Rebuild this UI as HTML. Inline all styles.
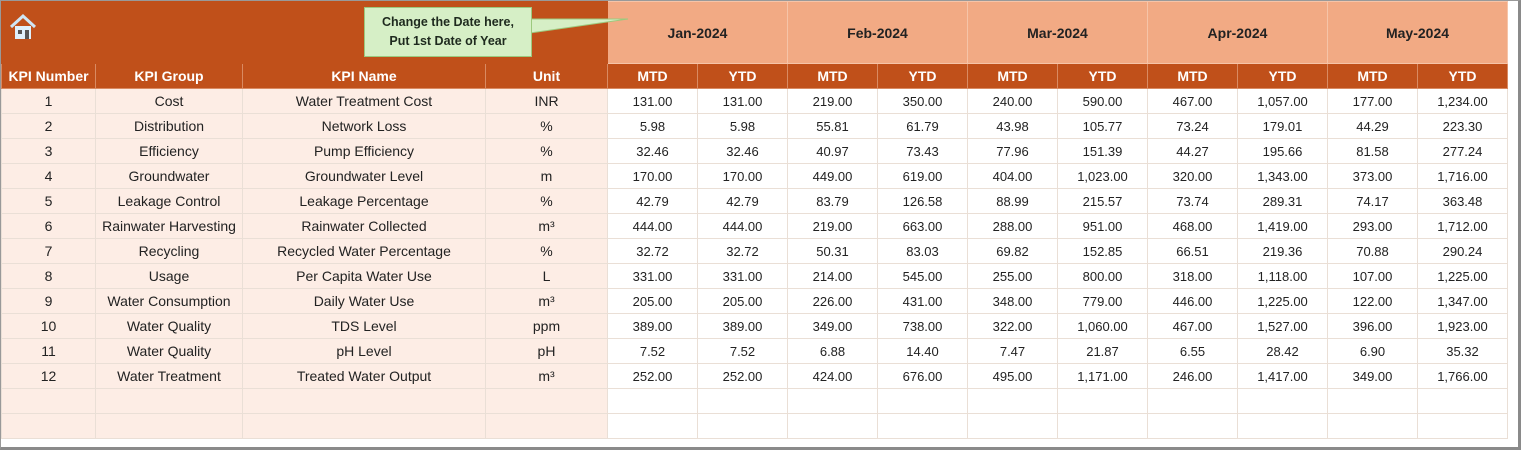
<!DOCTYPE html>
<html><head><meta charset="utf-8"><style>
body{margin:0;width:1524px;height:453px;background:#fff;overflow:hidden;position:relative;font-family:"Liberation Sans",Arial,sans-serif;}
.frame{position:absolute;left:0;top:0;width:1521px;height:450px;border:1px solid #999;border-right:3px solid #8a8a8a;border-bottom:3px solid #8a8a8a;box-sizing:border-box;}
table{position:absolute;left:1px;top:1px;border-collapse:collapse;table-layout:fixed;}
td{padding:0;text-align:center;font-size:13px;color:#222;border:1px solid #eadfd6;height:24px;overflow:hidden;white-space:nowrap;}
.top td{height:61px;}
.hd td{background:#C0501A;color:#fff;font-weight:bold;font-size:14px;border-color:#d98a62;}
.mon{background:#F2AA84;color:#222;font-weight:bold;font-size:14px;border-color:#f6c4a8 !important;}
.l{background:#FDEDE5;font-size:14px;}
.callout{position:absolute;left:364px;top:7px;width:168px;height:50px;background:#D6EFC6;border:1px solid #9CC97E;box-sizing:border-box;font-size:12.5px;font-weight:bold;color:#1e2a1e;text-align:center;line-height:19px;padding-top:5px;}
</style></head><body>
<table>
<colgroup><col style="width:94px"><col style="width:147px"><col style="width:243px"><col style="width:122px">
<col style="width:90px"><col style="width:90px"><col style="width:90px"><col style="width:90px"><col style="width:90px"><col style="width:90px"><col style="width:90px"><col style="width:90px"><col style="width:90px"><col style="width:90px"></colgroup>
<tr class="top"><td colspan="4" style="background:#C0501A;border-color:#C0501A"></td><td colspan="2" class="mon">Jan-2024</td><td colspan="2" class="mon">Feb-2024</td><td colspan="2" class="mon">Mar-2024</td><td colspan="2" class="mon">Apr-2024</td><td colspan="2" class="mon">May-2024</td></tr>
<tr class="hd"><td>KPI Number</td><td>KPI Group</td><td>KPI Name</td><td>Unit</td><td>MTD</td><td>YTD</td><td>MTD</td><td>YTD</td><td>MTD</td><td>YTD</td><td>MTD</td><td>YTD</td><td>MTD</td><td>YTD</td></tr>
<tr><td class="l">1</td><td class="l">Cost</td><td class="l">Water Treatment Cost</td><td class="l">INR</td><td>131.00</td><td>131.00</td><td>219.00</td><td>350.00</td><td>240.00</td><td>590.00</td><td>467.00</td><td>1,057.00</td><td>177.00</td><td>1,234.00</td></tr>
<tr><td class="l">2</td><td class="l">Distribution</td><td class="l">Network Loss</td><td class="l">%</td><td>5.98</td><td>5.98</td><td>55.81</td><td>61.79</td><td>43.98</td><td>105.77</td><td>73.24</td><td>179.01</td><td>44.29</td><td>223.30</td></tr>
<tr><td class="l">3</td><td class="l">Efficiency</td><td class="l">Pump Efficiency</td><td class="l">%</td><td>32.46</td><td>32.46</td><td>40.97</td><td>73.43</td><td>77.96</td><td>151.39</td><td>44.27</td><td>195.66</td><td>81.58</td><td>277.24</td></tr>
<tr><td class="l">4</td><td class="l">Groundwater</td><td class="l">Groundwater Level</td><td class="l">m</td><td>170.00</td><td>170.00</td><td>449.00</td><td>619.00</td><td>404.00</td><td>1,023.00</td><td>320.00</td><td>1,343.00</td><td>373.00</td><td>1,716.00</td></tr>
<tr><td class="l">5</td><td class="l">Leakage Control</td><td class="l">Leakage Percentage</td><td class="l">%</td><td>42.79</td><td>42.79</td><td>83.79</td><td>126.58</td><td>88.99</td><td>215.57</td><td>73.74</td><td>289.31</td><td>74.17</td><td>363.48</td></tr>
<tr><td class="l">6</td><td class="l">Rainwater Harvesting</td><td class="l">Rainwater Collected</td><td class="l">m³</td><td>444.00</td><td>444.00</td><td>219.00</td><td>663.00</td><td>288.00</td><td>951.00</td><td>468.00</td><td>1,419.00</td><td>293.00</td><td>1,712.00</td></tr>
<tr><td class="l">7</td><td class="l">Recycling</td><td class="l">Recycled Water Percentage</td><td class="l">%</td><td>32.72</td><td>32.72</td><td>50.31</td><td>83.03</td><td>69.82</td><td>152.85</td><td>66.51</td><td>219.36</td><td>70.88</td><td>290.24</td></tr>
<tr><td class="l">8</td><td class="l">Usage</td><td class="l">Per Capita Water Use</td><td class="l">L</td><td>331.00</td><td>331.00</td><td>214.00</td><td>545.00</td><td>255.00</td><td>800.00</td><td>318.00</td><td>1,118.00</td><td>107.00</td><td>1,225.00</td></tr>
<tr><td class="l">9</td><td class="l">Water Consumption</td><td class="l">Daily Water Use</td><td class="l">m³</td><td>205.00</td><td>205.00</td><td>226.00</td><td>431.00</td><td>348.00</td><td>779.00</td><td>446.00</td><td>1,225.00</td><td>122.00</td><td>1,347.00</td></tr>
<tr><td class="l">10</td><td class="l">Water Quality</td><td class="l">TDS Level</td><td class="l">ppm</td><td>389.00</td><td>389.00</td><td>349.00</td><td>738.00</td><td>322.00</td><td>1,060.00</td><td>467.00</td><td>1,527.00</td><td>396.00</td><td>1,923.00</td></tr>
<tr><td class="l">11</td><td class="l">Water Quality</td><td class="l">pH Level</td><td class="l">pH</td><td>7.52</td><td>7.52</td><td>6.88</td><td>14.40</td><td>7.47</td><td>21.87</td><td>6.55</td><td>28.42</td><td>6.90</td><td>35.32</td></tr>
<tr><td class="l">12</td><td class="l">Water Treatment</td><td class="l">Treated Water Output</td><td class="l">m³</td><td>252.00</td><td>252.00</td><td>424.00</td><td>676.00</td><td>495.00</td><td>1,171.00</td><td>246.00</td><td>1,417.00</td><td>349.00</td><td>1,766.00</td></tr>
<tr><td class="l"></td><td class="l"></td><td class="l"></td><td class="l"></td><td></td><td></td><td></td><td></td><td></td><td></td><td></td><td></td><td></td><td></td></tr>
<tr><td class="l"></td><td class="l"></td><td class="l"></td><td class="l"></td><td></td><td></td><td></td><td></td><td></td><td></td><td></td><td></td><td></td><td></td></tr>
</table>
<svg style="position:absolute;left:8px;top:13px" width="30" height="28" viewBox="0 0 30 28">
<path d="M3 14 L15 3 L27 14" fill="none" stroke="#cfe6f5" stroke-width="3"/>
<rect x="7" y="13" width="16" height="13" fill="#dff0fb"/>
<rect x="10" y="17" width="4" height="4" fill="#555"/><rect x="17" y="17" width="4" height="9" fill="#555"/>
</svg>
<svg style="position:absolute;left:530px;top:13px" width="100" height="30"><polygon points="0,6 98,6 0,20" fill="#D6EFC6" stroke="#9CC97E"/></svg>
<div class="callout">Change the Date here,<br>Put 1st Date of Year</div>
<div class="frame"></div>
</body></html>
